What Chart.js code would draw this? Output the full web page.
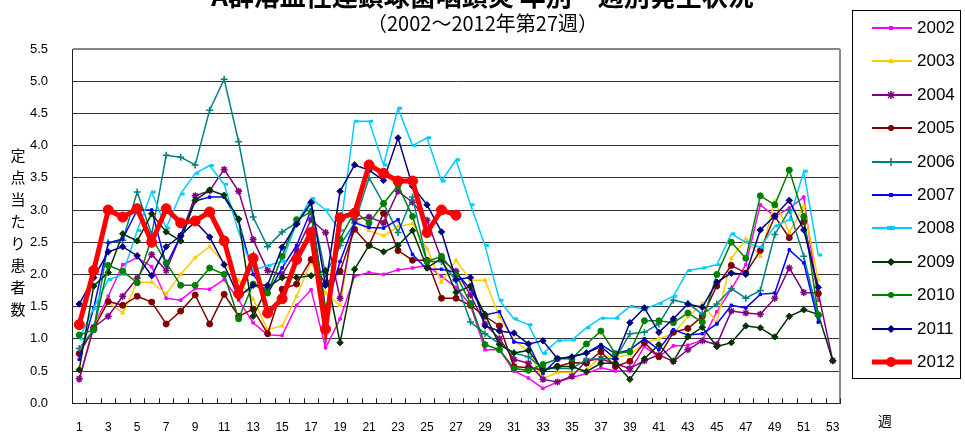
<!DOCTYPE html>
<html><head><meta charset="utf-8">
<script src="https://cdn.jsdelivr.net/npm/chart.js@4"></script>
<style>
body{margin:0;background:#fff;width:965px;height:435px;overflow:hidden;position:relative;font-family:"Liberation Sans",Arial,sans-serif}
#c{position:absolute;left:0;top:0}
.t{position:absolute;white-space:nowrap;color:#000}
#legend{position:absolute;left:852px;top:10px;width:109px;height:369px;border:1px solid #000;box-sizing:border-box;background:#fff}
.li{position:absolute;left:0;height:20px;width:108px}
.li svg{position:absolute;left:18px;top:4px}
.li span{position:absolute;left:64px;top:0;font:17px "Liberation Sans",Arial,sans-serif;line-height:20px}
</style></head><body>
<canvas id="c" width="965" height="435"></canvas>
<div class="t" style="left:0;width:965px;text-align:center;top:-20px;font:bold 26px 'Noto Sans CJK JP';line-height:30px">A群溶血性連鎖球菌咽頭炎 年別・週別発生状況</div>
<div class="t" style="left:0;width:965px;text-align:center;top:10px;font:20px 'Noto Sans CJK JP';line-height:26px">（2002～2012年第27週）</div>
<div class="t" id="ylab" style="left:9px;top:144px;width:18px;font:15px 'Noto Sans CJK JP';line-height:22px;white-space:normal;text-align:center">定点当たり患者数</div>
<div class="t" style="left:878px;top:410px;font:14px 'Noto Sans CJK JP';line-height:20px">週</div>
<div id="legend"></div>
<script>
const weeks = Array.from({length:53},(_, i)=>String(i+1));
const years = ['2002','2003','2004','2005','2006','2007','2008','2009','2010','2011','2012'];
const y2002 = [0.35,1.2,1.66,2.15,2.26,2.12,1.63,1.6,1.78,1.77,1.92,1.6,1.25,1.06,1.05,1.52,1.76,0.86,1.31,1.97,2.03,2.0,2.07,2.1,2.14,1.97,1.8,1.52,0.83,0.83,0.5,0.39,0.23,0.33,0.4,0.46,0.55,0.5,0.5,0.88,0.72,0.89,0.9,0.98,1.42,1.77,2.15,3.08,2.9,3.03,3.2,1.6,null];
const y2003 = [0.37,1.2,1.57,1.4,1.88,1.88,1.7,2.0,2.26,2.43,2.18,1.91,1.62,1.14,1.2,1.66,2.2,1.71,1.52,2.85,2.68,2.6,2.74,2.79,2.4,1.88,2.22,1.91,1.91,1.34,0.98,0.8,0.38,0.48,0.48,0.52,0.72,0.72,0.75,0.94,1.0,1.08,1.34,1.55,1.25,2.25,2.55,2.28,3.14,2.65,3.06,1.91,null];
const y2004 = [0.38,1.18,1.35,1.66,1.94,2.31,2.06,2.6,3.22,3.3,3.63,3.29,2.54,2.06,2.0,2.37,2.85,2.65,1.63,2.85,2.89,2.8,3.29,3.12,2.84,2.23,2.05,1.68,1.23,1.0,0.68,0.62,0.37,0.33,0.42,0.66,0.69,0.61,0.54,0.66,0.75,0.65,0.83,0.97,0.91,1.43,1.4,1.38,1.63,2.1,1.72,1.71,0.66];
const y2005 = [0.77,1.16,1.58,1.52,1.66,1.57,1.23,1.43,1.68,1.23,1.69,1.35,1.46,1.08,1.77,1.85,2.23,1.85,2.05,2.7,2.45,2.95,2.37,2.22,2.22,1.63,1.63,1.52,1.35,1.2,0.57,0.55,0.52,0.57,0.63,0.62,0.8,0.57,0.65,0.94,0.72,1.1,1.16,1.35,1.82,2.14,2.02,2.37,2.9,2.57,2.82,1.7,null];
const y2006 = [0.85,1.14,2.49,2.53,3.28,2.62,3.85,3.82,3.7,4.55,5.03,4.06,2.89,2.43,2.66,2.8,3.1,2.0,2.45,2.8,3.5,3.1,2.65,3.2,2.2,2.2,1.9,1.26,1.08,0.92,0.78,0.72,0.54,0.54,0.54,0.68,0.69,0.69,1.08,1.1,1.23,1.6,1.55,1.38,1.54,1.78,1.63,1.75,2.62,3.0,2.28,1.35,null];
const y2007 = [0.68,1.48,2.49,2.55,3.0,3.0,2.14,2.6,3.14,3.2,3.2,2.83,2.0,1.7,2.1,2.45,3.0,1.46,2.2,2.8,2.73,2.72,2.85,2.31,2.08,2.08,2.03,1.77,1.37,1.42,0.95,0.92,0.46,0.69,0.72,0.78,0.91,0.77,0.83,1.0,0.83,1.14,1.06,1.08,1.23,1.52,1.48,1.69,1.71,2.38,2.18,1.26,null];
const y2008 = [1.0,1.48,1.92,2.0,2.68,3.28,2.72,3.25,3.57,3.69,3.4,2.66,2.06,2.14,2.2,2.8,3.18,3.0,2.68,4.38,4.38,3.7,4.58,4.0,4.12,3.45,3.78,3.08,2.45,1.6,1.31,1.22,0.77,0.97,0.98,1.17,1.32,1.32,1.5,1.46,1.55,1.66,2.06,2.1,2.15,2.63,2.5,2.42,2.75,2.85,3.6,2.3,null];
const y2009 = [0.52,1.82,2.03,2.63,2.52,2.94,2.66,2.52,3.15,3.31,3.23,2.86,1.35,1.8,1.95,1.95,1.98,2.06,0.94,2.08,2.45,2.35,2.45,2.68,2.1,2.25,1.72,1.82,1.38,0.91,0.78,0.82,0.51,0.57,0.57,0.49,0.62,0.62,0.37,0.69,0.91,0.65,1.03,1.18,0.88,0.94,1.2,1.17,1.03,1.35,1.45,1.38,0.66];
const y2010 = [1.06,1.14,2.14,2.05,1.87,2.57,2.18,1.83,1.83,2.1,2.0,1.31,1.85,1.71,2.28,2.85,2.97,1.43,2.55,2.98,2.8,3.1,3.38,2.9,2.2,2.28,2.0,1.55,0.91,0.83,0.54,0.51,0.6,0.69,0.69,0.92,1.12,0.77,0.8,1.28,1.28,1.25,1.4,1.26,2.0,2.5,2.25,3.22,3.08,3.62,2.9,1.37,null];
const y2011 = [1.54,1.95,2.35,2.43,2.29,1.98,2.43,2.6,2.82,2.58,2.15,1.65,1.83,1.83,2.42,2.78,3.12,1.83,3.29,3.7,3.62,3.46,4.12,3.37,3.08,2.66,1.92,1.95,1.2,1.12,1.09,0.92,0.97,0.69,0.72,0.78,0.88,0.69,1.25,1.48,1.1,1.31,1.54,1.49,1.88,2.02,2.0,2.69,2.91,3.15,2.69,1.8,null];
const y2012 = [1.22,2.06,3.0,2.89,3.02,2.5,3.02,2.8,2.83,2.97,2.52,1.7,2.25,1.4,1.62,2.23,2.65,1.15,2.88,2.95,3.7,3.57,3.45,3.45,2.65,3.0,2.92];

const values = [y2002,y2003,y2004,y2005,y2006,y2007,y2008,y2009,y2010,y2011,y2012];
const colors = ['#FF00FF','#FFCC00','#800080','#800000','#008080','#0000FF','#00CCFF','#003300','#008000','#000080','#FF0000'];
const shapes = ['rect','triangle','star','circle','cross','rect','dash','rectRot','circle','rectRot','circle'];
const radii = [1.8,2.2,3.5,3,3.5,1.8,4,3.2,3,3.2,5];
const widths = [1.5,1.5,1.5,1.5,1.5,1.5,1.5,1.5,1.5,1.5,5];

const datasets = years.map((y,i)=>({
  label:y, data:values[i], borderColor:colors[i], backgroundColor:colors[i],
  pointBackgroundColor:colors[i], pointBorderColor:colors[i],
  pointStyle:shapes[i], pointRadius:radii[i], pointBorderWidth:shapes[i]==='dash'?3:(shapes[i]==='star'||shapes[i]==='cross'?1.5:1),
  borderWidth:widths[i], tension:0, order:years.length-1-i, spanGaps:false
}));

const frame = {
  id:'frame',
  afterDraw(chart){
    const {ctx, chartArea:a} = chart;
    ctx.save();
    ctx.strokeStyle='#888'; ctx.lineWidth=2;
    ctx.beginPath(); ctx.moveTo(a.right,a.top); ctx.lineTo(a.right,a.bottom); ctx.stroke();
    ctx.strokeStyle='#222'; ctx.lineWidth=1;
    const n=weeks.length, w=(a.right-a.left)/n;
    ctx.beginPath();
    for(let i=0;i<=n;i++){const x=Math.round(a.left+i*w)+0.5; ctx.moveTo(x,a.bottom); ctx.lineTo(x,a.bottom-5);}
    ctx.stroke();
    ctx.restore();
  }
};

new Chart(document.getElementById('c'),{
  type:'line',
  data:{labels:weeks, datasets},
  options:{
    responsive:false, animation:false, devicePixelRatio:1,
    layout:{padding:{top:49,right:125,left:0,bottom:0}},
    plugins:{legend:{display:false},tooltip:{enabled:false}},
    scales:{
      x:{offset:true,
         grid:{display:false},
         border:{display:true,color:'#222',width:1},
         ticks:{autoSkip:false,maxRotation:0,padding:9,color:'#000',font:{size:12,family:'"Liberation Sans Narrow","Liberation Sans",Arial'},
           callback:(v,i)=> i%2===0 ? weeks[i] : ''},
         afterFit:s=>{s.height=28;}
      },
      y:{min:0,max:5.5,
         grid:{color:c=>c.tick&&c.tick.value===5.5?'#888':'#333',lineWidth:c=>c.tick&&c.tick.value===5.5?2:1,drawTicks:false},
         border:{display:true,color:'#222',width:1},
         ticks:{stepSize:0.5,padding:24,color:'#000',font:{size:13,family:'"Liberation Sans Narrow","Liberation Sans",Arial'},
           callback:v=>Number(v).toFixed(1)},
         afterFit:s=>{s.width=72;}
      }
    }
  },
  plugins:[frame]
});

// HTML legend built from the same arrays
function markerSvg(i){
  const c=colors[i], s=shapes[i];
  let m='';
  const cx=20, cy=6;
  if(s==='circle') m=`<circle cx="${cx}" cy="${cy}" r="${i===10?5:3}" fill="${c}"/>`;
  else if(s==='rect') m=`<rect x="${cx-2}" y="${cy-2}" width="4" height="4" fill="${c}"/>`;
  else if(s==='triangle') m=`<polygon points="${cx},${cy-3} ${cx+3},${cy+2} ${cx-3},${cy+2}" fill="${c}"/>`;
  else if(s==='star') m=`<path d="M${cx-4} ${cy}H${cx+4}M${cx} ${cy-4}V${cy+4}M${cx-3} ${cy-3}L${cx+3} ${cy+3}M${cx-3} ${cy+3}L${cx+3} ${cy-3}" stroke="${c}" stroke-width="1.5"/>`;
  else if(s==='cross') m=`<path d="M${cx-4} ${cy}H${cx+4}M${cx} ${cy-4}V${cy+4}" stroke="${c}" stroke-width="1.5"/>`;
  else if(s==='dash') m=`<path d="M${cx-4} ${cy}H${cx+4}" stroke="${c}" stroke-width="4"/>`;
  else if(s==='rectRot') m=`<polygon points="${cx},${cy-4} ${cx+4},${cy} ${cx},${cy+4} ${cx-4},${cy}" fill="${c}"/>`;
  return `<svg width="42" height="12"><line x1="1" y1="6" x2="41" y2="6" stroke="${c}" stroke-width="${i===10?5:1.8}"/>${m}</svg>`;
}
const lg=document.getElementById('legend');
years.forEach((y,i)=>{
  const d=document.createElement('div'); d.className='li'; d.style.top=(7+i*33.4)+'px';
  d.innerHTML=markerSvg(i)+`<span>${y}</span>`; lg.appendChild(d);
});
</script>
</body></html>
